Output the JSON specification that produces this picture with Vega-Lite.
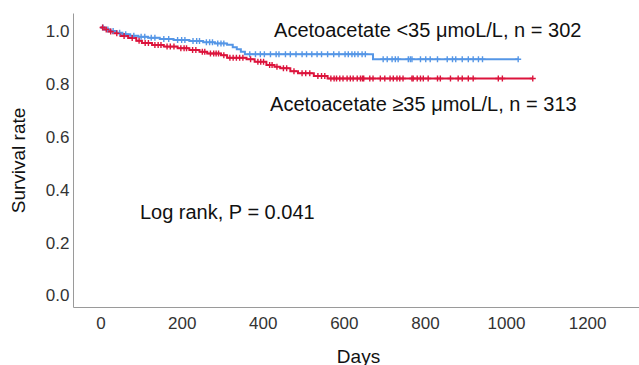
{
"$schema": "https://vega.github.io/schema/vega-lite/v6.json",
"width": 566, "height": 294,
"autosize": {"type": "none"},
"padding": {"left": 73, "top": 13, "right": 0, "bottom": 58},
"background": "white",
"config": {"view": {"stroke": null}, "font": "Liberation Sans"},
"datasets": {
"km": [
{"g":"L","d":0,"s":1.0,"c":0},{"g":"L","d":6,"s":1.0,"c":1},{"g":"L","d":10,"s":0.993,"c":0},{"g":"L","d":18,"s":0.993,"c":1},
{"g":"L","d":24,"s":0.987,"c":0},{"g":"L","d":31,"s":0.987,"c":1},{"g":"L","d":39,"s":0.980,"c":0},{"g":"L","d":47,"s":0.980,"c":1},
{"g":"L","d":54,"s":0.975,"c":0},{"g":"L","d":62,"s":0.975,"c":1},{"g":"L","d":73,"s":0.969,"c":0},{"g":"L","d":82,"s":0.969,"c":1},
{"g":"L","d":93,"s":0.965,"c":0},{"g":"L","d":100,"s":0.965,"c":1},{"g":"L","d":109,"s":0.965,"c":1},{"g":"L","d":117,"s":0.961,"c":0},
{"g":"L","d":125,"s":0.961,"c":1},{"g":"L","d":134,"s":0.961,"c":1},{"g":"L","d":146,"s":0.957,"c":0},{"g":"L","d":156,"s":0.957,"c":1},
{"g":"L","d":168,"s":0.957,"c":1},{"g":"L","d":180,"s":0.953,"c":0},{"g":"L","d":190,"s":0.953,"c":1},{"g":"L","d":200,"s":0.953,"c":1},
{"g":"L","d":208,"s":0.953,"c":1},{"g":"L","d":219,"s":0.949,"c":0},{"g":"L","d":228,"s":0.949,"c":1},{"g":"L","d":237,"s":0.949,"c":1},
{"g":"L","d":244,"s":0.949,"c":1},{"g":"L","d":253,"s":0.944,"c":0},{"g":"L","d":261,"s":0.944,"c":1},{"g":"L","d":269,"s":0.944,"c":1},
{"g":"L","d":276,"s":0.944,"c":1},{"g":"L","d":282,"s":0.940,"c":0},{"g":"L","d":289,"s":0.940,"c":1},{"g":"L","d":297,"s":0.940,"c":1},
{"g":"L","d":304,"s":0.940,"c":1},{"g":"L","d":312,"s":0.935,"c":0},{"g":"L","d":326,"s":0.925,"c":0},{"g":"L","d":336,"s":0.918,"c":0},
{"g":"L","d":346,"s":0.908,"c":0},{"g":"L","d":356,"s":0.899,"c":0},{"g":"L","d":368,"s":0.899,"c":1},{"g":"L","d":382,"s":0.899,"c":1},
{"g":"L","d":394,"s":0.899,"c":1},{"g":"L","d":404,"s":0.899,"c":1},{"g":"L","d":419,"s":0.899,"c":1},{"g":"L","d":433,"s":0.899,"c":1},
{"g":"L","d":440,"s":0.899,"c":1},{"g":"L","d":456,"s":0.899,"c":1},{"g":"L","d":468,"s":0.899,"c":1},{"g":"L","d":482,"s":0.899,"c":1},
{"g":"L","d":497,"s":0.899,"c":1},{"g":"L","d":508,"s":0.899,"c":1},{"g":"L","d":521,"s":0.899,"c":1},{"g":"L","d":534,"s":0.899,"c":1},
{"g":"L","d":545,"s":0.899,"c":1},{"g":"L","d":560,"s":0.899,"c":1},{"g":"L","d":575,"s":0.899,"c":1},{"g":"L","d":588,"s":0.899,"c":1},
{"g":"L","d":603,"s":0.899,"c":1},{"g":"L","d":611,"s":0.899,"c":1},{"g":"L","d":620,"s":0.899,"c":1},{"g":"L","d":627,"s":0.899,"c":1},
{"g":"L","d":635,"s":0.899,"c":1},{"g":"L","d":645,"s":0.899,"c":1},{"g":"L","d":653,"s":0.899,"c":1},{"g":"L","d":672,"s":0.880,"c":0},
{"g":"L","d":697,"s":0.880,"c":1},{"g":"L","d":707,"s":0.880,"c":1},{"g":"L","d":719,"s":0.880,"c":1},{"g":"L","d":727,"s":0.880,"c":1},
{"g":"L","d":734,"s":0.880,"c":1},{"g":"L","d":759,"s":0.880,"c":1},{"g":"L","d":764,"s":0.880,"c":1},{"g":"L","d":768,"s":0.880,"c":1},
{"g":"L","d":789,"s":0.880,"c":1},{"g":"L","d":802,"s":0.880,"c":1},{"g":"L","d":813,"s":0.880,"c":1},{"g":"L","d":831,"s":0.880,"c":1},
{"g":"L","d":855,"s":0.880,"c":1},{"g":"L","d":868,"s":0.880,"c":1},{"g":"L","d":876,"s":0.880,"c":1},{"g":"L","d":892,"s":0.880,"c":1},
{"g":"L","d":907,"s":0.880,"c":1},{"g":"L","d":919,"s":0.880,"c":1},{"g":"L","d":932,"s":0.880,"c":1},{"g":"L","d":942,"s":0.880,"c":1},
{"g":"L","d":1030,"s":0.880,"c":1},
{"g":"H","d":0,"s":1.0,"c":0},{"g":"H","d":5,"s":1.0,"c":1},{"g":"H","d":8,"s":0.993,"c":0},{"g":"H","d":14,"s":0.993,"c":1},
{"g":"H","d":19,"s":0.985,"c":0},{"g":"H","d":25,"s":0.985,"c":1},{"g":"H","d":31,"s":0.978,"c":0},{"g":"H","d":40,"s":0.978,"c":1},
{"g":"H","d":49,"s":0.968,"c":0},{"g":"H","d":58,"s":0.968,"c":1},{"g":"H","d":68,"s":0.960,"c":0},{"g":"H","d":78,"s":0.960,"c":1},
{"g":"H","d":88,"s":0.950,"c":0},{"g":"H","d":95,"s":0.950,"c":1},{"g":"H","d":102,"s":0.942,"c":0},{"g":"H","d":110,"s":0.942,"c":1},
{"g":"H","d":118,"s":0.942,"c":1},{"g":"H","d":127,"s":0.934,"c":0},{"g":"H","d":134,"s":0.934,"c":1},{"g":"H","d":142,"s":0.934,"c":1},
{"g":"H","d":149,"s":0.934,"c":1},{"g":"H","d":156,"s":0.928,"c":0},{"g":"H","d":164,"s":0.928,"c":1},{"g":"H","d":172,"s":0.928,"c":1},
{"g":"H","d":181,"s":0.928,"c":1},{"g":"H","d":190,"s":0.922,"c":0},{"g":"H","d":198,"s":0.922,"c":1},{"g":"H","d":206,"s":0.922,"c":1},
{"g":"H","d":212,"s":0.922,"c":1},{"g":"H","d":219,"s":0.915,"c":0},{"g":"H","d":227,"s":0.915,"c":1},{"g":"H","d":235,"s":0.915,"c":1},
{"g":"H","d":244,"s":0.908,"c":0},{"g":"H","d":251,"s":0.908,"c":1},{"g":"H","d":257,"s":0.908,"c":1},{"g":"H","d":263,"s":0.902,"c":0},
{"g":"H","d":271,"s":0.902,"c":1},{"g":"H","d":279,"s":0.902,"c":1},{"g":"H","d":285,"s":0.902,"c":1},{"g":"H","d":291,"s":0.902,"c":1},
{"g":"H","d":297,"s":0.895,"c":0},{"g":"H","d":304,"s":0.895,"c":1},{"g":"H","d":312,"s":0.886,"c":0},{"g":"H","d":319,"s":0.886,"c":1},
{"g":"H","d":327,"s":0.886,"c":1},{"g":"H","d":335,"s":0.886,"c":1},{"g":"H","d":343,"s":0.886,"c":1},{"g":"H","d":351,"s":0.886,"c":1},
{"g":"H","d":360,"s":0.880,"c":0},{"g":"H","d":370,"s":0.880,"c":1},{"g":"H","d":380,"s":0.871,"c":0},{"g":"H","d":388,"s":0.871,"c":1},
{"g":"H","d":395,"s":0.871,"c":1},{"g":"H","d":402,"s":0.871,"c":1},{"g":"H","d":409,"s":0.858,"c":0},{"g":"H","d":417,"s":0.858,"c":1},
{"g":"H","d":423,"s":0.858,"c":1},{"g":"H","d":429,"s":0.852,"c":0},{"g":"H","d":435,"s":0.852,"c":1},{"g":"H","d":443,"s":0.846,"c":0},
{"g":"H","d":451,"s":0.846,"c":1},{"g":"H","d":459,"s":0.846,"c":1},{"g":"H","d":468,"s":0.835,"c":0},{"g":"H","d":477,"s":0.835,"c":1},
{"g":"H","d":487,"s":0.827,"c":0},{"g":"H","d":497,"s":0.827,"c":1},{"g":"H","d":506,"s":0.827,"c":1},{"g":"H","d":516,"s":0.827,"c":1},
{"g":"H","d":526,"s":0.817,"c":0},{"g":"H","d":536,"s":0.817,"c":1},{"g":"H","d":545,"s":0.817,"c":1},{"g":"H","d":553,"s":0.817,"c":1},
{"g":"H","d":560,"s":0.807,"c":0},{"g":"H","d":568,"s":0.807,"c":1},{"g":"H","d":576,"s":0.807,"c":1},{"g":"H","d":582,"s":0.807,"c":1},
{"g":"H","d":590,"s":0.807,"c":1},{"g":"H","d":598,"s":0.807,"c":1},{"g":"H","d":608,"s":0.807,"c":1},{"g":"H","d":616,"s":0.807,"c":1},
{"g":"H","d":623,"s":0.807,"c":1},{"g":"H","d":633,"s":0.807,"c":1},{"g":"H","d":641,"s":0.807,"c":1},{"g":"H","d":646,"s":0.807,"c":1},
{"g":"H","d":649,"s":0.807,"c":1},{"g":"H","d":664,"s":0.807,"c":1},{"g":"H","d":672,"s":0.807,"c":1},{"g":"H","d":690,"s":0.807,"c":1},
{"g":"H","d":701,"s":0.807,"c":1},{"g":"H","d":714,"s":0.807,"c":1},{"g":"H","d":722,"s":0.807,"c":1},{"g":"H","d":731,"s":0.807,"c":1},
{"g":"H","d":738,"s":0.807,"c":1},{"g":"H","d":746,"s":0.807,"c":1},{"g":"H","d":768,"s":0.807,"c":1},{"g":"H","d":771,"s":0.807,"c":1},
{"g":"H","d":781,"s":0.807,"c":1},{"g":"H","d":789,"s":0.807,"c":1},{"g":"H","d":796,"s":0.807,"c":1},{"g":"H","d":808,"s":0.807,"c":1},
{"g":"H","d":831,"s":0.807,"c":1},{"g":"H","d":838,"s":0.807,"c":1},{"g":"H","d":863,"s":0.807,"c":1},{"g":"H","d":882,"s":0.807,"c":1},
{"g":"H","d":892,"s":0.807,"c":1},{"g":"H","d":907,"s":0.807,"c":1},{"g":"H","d":919,"s":0.807,"c":1},{"g":"H","d":981,"s":0.807,"c":1},
{"g":"H","d":991,"s":0.807,"c":1},{"g":"H","d":1066,"s":0.807,"c":1}
],
"notes": [
{"label":"Acetoacetate <35 μmoL/L, n = 302","x":428,"y":0.987},
{"label":"Acetoacetate ≥35 μmoL/L, n = 313","x":418,"y":0.707},
{"label":"Log rank, P = 0.041","x":97,"y":0.299}
]
},
"encoding": {
"x": {"field":"d","type":"quantitative","scale":{"domain":[-68,1328],"nice":false,"zero":false},
 "axis":{"values":[0,200,400,600,800,1000,1200],"format":"d","ticks":false,"grid":false,"domainColor":"#9a9a9a","domainWidth":1,
 "labelFontSize":17,"labelColor":"#333333","labelPadding":8,"labelFlush":false,
 "title":"Days","titleFontSize":19,"titleFontWeight":"normal","titleColor":"#111111","titleX":285,"titleY":55,"titleBaseline":"alphabetic","titleAnchor":null}},
"y": {"field":"s","type":"quantitative","scale":{"domain":[-0.057,1.055],"nice":false,"zero":false},
 "axis":{"values":[0,0.2,0.4,0.6,0.8,1.0],"format":".1f","ticks":false,"grid":false,"domainColor":"#9a9a9a","domainWidth":1,
 "labelFontSize":17,"labelColor":"#333333","labelPadding":4,"labelOffset":4,"labelFlush":false,
 "title":"Survival rate","titleFontSize":19,"titleFontWeight":"normal","titleColor":"#111111","titleX":-55,"titleY":147,"titleBaseline":"middle","titleAlign":"center"}}
},
"layer": [
{"data":{"name":"km"},"mark":{"type":"line","interpolate":"step-after","strokeWidth":2,"clip":true},
 "encoding":{"color":{"field":"g","type":"nominal","scale":{"domain":["L","H"],"range":["#5596E6","#DC143C"]},"legend":null}}},
{"data":{"name":"km"},"transform":[{"filter":"datum.c == 1"}],
 "mark":{"type":"point","shape":"M-1,0H1M0,-1V1","size":36,"strokeWidth":1.4,"filled":false,"opacity":1},
 "encoding":{"color":{"field":"g","type":"nominal","scale":{"domain":["L","H"],"range":["#5596E6","#DC143C"]},"legend":null}}},
{"data":{"name":"notes"},"mark":{"type":"text","align":"left","baseline":"middle","fontSize":20,"color":"#111111"},
 "encoding":{"x":{"field":"x","type":"quantitative"},"y":{"field":"y","type":"quantitative"},"text":{"field":"label","type":"nominal"}}}
]
}
